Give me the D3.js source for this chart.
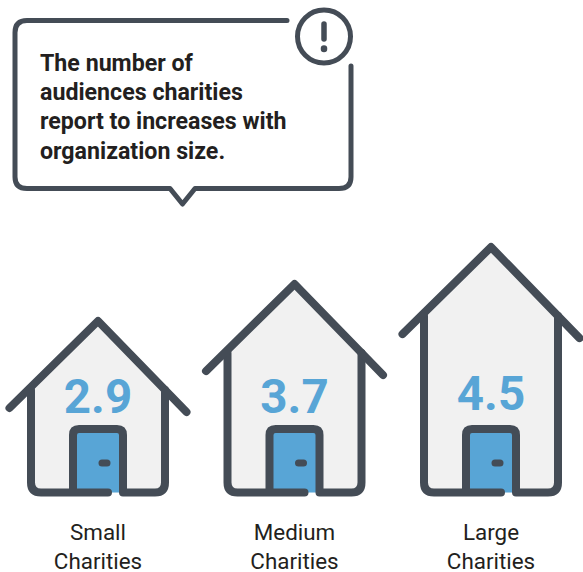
<!DOCTYPE html>
<html>
<head>
<meta charset="utf-8">
<script src="https://cdn.jsdelivr.net/npm/d3@7/dist/d3.min.js"></script>
<style>
html,body{margin:0;padding:0;background:#fff}
svg{display:block}
text{font-family:Roboto,sans-serif}
</style>
</head>
<body>
<svg id="chart" width="583" height="572"></svg>
<script>
const categories = ["Small Charities", "Medium Charities", "Large Charities"];
const audiences = [2.9, 3.7, 4.5];
const calloutLines = ["The number of", "audiences charities", "report to increases with", "organization size."];

const DARK = "#444c56", BLUE = "#58a5d6", WALL = "#f1f1f1", INK = "#231f20";
const svg = d3.select("#chart");

// House centres across the page; apex height is driven by the value.
const x = d3.scalePoint().domain(categories).range([98, 491]);
const y = d3.scaleLinear().domain([0, 5]).range([455, 224]);
const ground = 492.5;
const line = d3.line();

// Callout bubble, left open at the top-right corner for the alert badge.
const bubble = d3.path();
bubble.moveTo(287, 20.5);
bubble.lineTo(27, 20.5);
bubble.quadraticCurveTo(15, 20.5, 15, 32.5);
bubble.lineTo(15, 177);
bubble.quadraticCurveTo(15, 188.5, 27, 188.5);
bubble.lineTo(170, 188.5);
bubble.lineTo(182.5, 204);
bubble.lineTo(195, 188.5);
bubble.lineTo(339, 188.5);
bubble.quadraticCurveTo(351, 188.5, 351, 177);
bubble.lineTo(351, 66);
svg.append("path").attr("d", bubble.toString())
  .attr("fill", "none").attr("stroke", DARK).attr("stroke-width", 5)
  .attr("stroke-linecap", "round").attr("stroke-linejoin", "round");

const badge = svg.append("g").attr("stroke", DARK).attr("stroke-linecap", "round");
badge.append("circle").attr("cx", 324).attr("cy", 36.5).attr("r", 26.5)
  .attr("fill", "none").attr("stroke-width", 5);
badge.append("path").attr("d", line([[324, 24], [324, 39]])).attr("stroke-width", 5.5);
badge.append("path").attr("d", line([[324, 48.5], [324, 49]])).attr("stroke-width", 6.5);

svg.append("g").selectAll("text").data(calloutLines).join("text")
  .attr("x", 40).attr("y", (d, i) => 70.5 + i * 29.4)
  .attr("font-size", 23.2).attr("font-weight", 700).attr("fill", INK)
  .text(d => d);

// One house per category.
const rows = categories.map((name, i) => ({name, value: audiences[i]}));
const houses = svg.append("g").selectAll("g").data(rows).join("g")
  .attr("transform", d => `translate(${x(d.name)},0)`);

const apex = d => y(d.value);
const wallX = 67;
const wallTop = d => apex(d) + 69;

houses.append("path")
  .attr("d", d => line([[-wallX, wallTop(d)], [0, apex(d)], [wallX, wallTop(d)], [wallX, ground], [-wallX, ground]]) + "Z")
  .attr("fill", WALL);

// Door panel
houses.append("rect")
  .attr("x", -25).attr("y", 429).attr("width", 50).attr("height", ground - 429)
  .attr("fill", BLUE);

// Wall and door outline, broken by the threshold gap.
houses.append("path")
  .attr("d", d => {
    const p = d3.path();
    p.moveTo(-wallX, wallTop(d));
    p.lineTo(-wallX, ground - 10);
    p.quadraticCurveTo(-wallX, ground, -wallX + 10, ground);
    p.lineTo(10, ground);
    p.moveTo(-25, ground);
    p.lineTo(-25, 435);
    p.quadraticCurveTo(-25, 429, -19, 429);
    p.lineTo(19, 429);
    p.quadraticCurveTo(25, 429, 25, 435);
    p.lineTo(25, ground);
    p.lineTo(wallX - 10, ground);
    p.quadraticCurveTo(wallX, ground, wallX, ground - 10);
    p.lineTo(wallX, wallTop(d));
    return p.toString();
  })
  .attr("fill", "none").attr("stroke", DARK).attr("stroke-width", 8)
  .attr("stroke-linecap", "round").attr("stroke-linejoin", "round");

// Roof
houses.append("path")
  .attr("d", d => line([[-88.5, apex(d) + 87], [0, apex(d)], [88.5, apex(d) + 91]]))
  .attr("fill", "none").attr("stroke", DARK).attr("stroke-width", 8)
  .attr("stroke-linecap", "round").attr("stroke-linejoin", "round");

// Door handle
houses.append("rect")
  .attr("x", 0.5).attr("y", 459.5).attr("width", 12).attr("height", 7).attr("rx", 3.5)
  .attr("fill", DARK);

houses.append("text")
  .attr("text-anchor", "middle")
  .attr("y", d => d.value === 4.5 ? 410 : 413)
  .attr("font-size", 47.5).attr("font-weight", 700).attr("fill", BLUE)
  .text(d => d3.format(".1f")(d.value));

houses.each(function(d) {
  const words = d.name.split(" ");
  d3.select(this).selectAll("text.cat").data(words).join("text")
    .attr("class", "cat").attr("text-anchor", "middle")
    .attr("y", (w, i) => 540 + i * 28.6)
    .attr("font-size", 22.4).attr("fill", INK)
    .text(w => w);
});
</script>
</body>
</html>
